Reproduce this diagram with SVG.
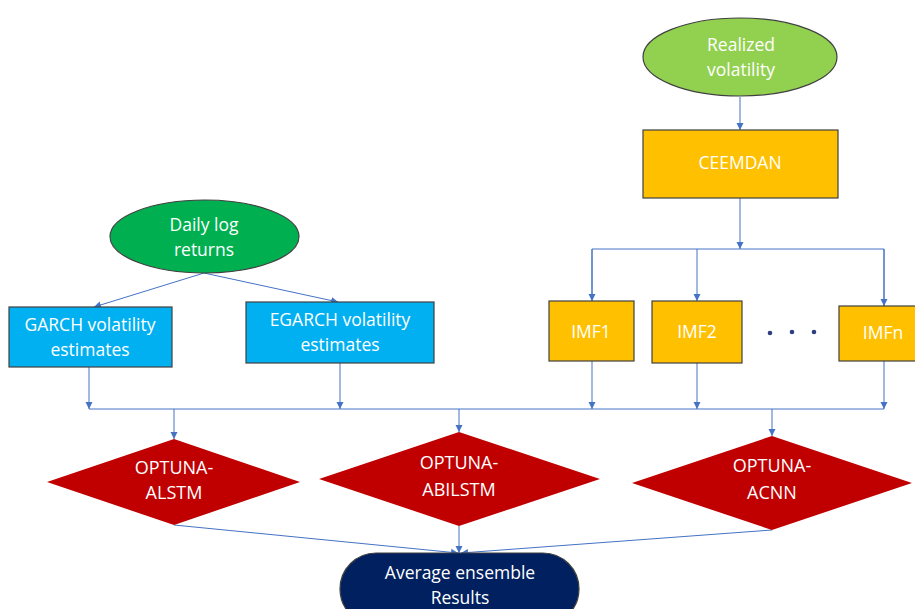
<svg xmlns="http://www.w3.org/2000/svg" width="915" height="609" viewBox="0 0 915 609">
<defs>
<marker id="ah" markerWidth="8" markerHeight="8" refX="7" refY="4" orient="auto" markerUnits="userSpaceOnUse">
<path d="M0,0.5 L7,4 L0,7.5 Z" fill="#4472C4"/>
</marker>
<style>
.c{stroke:#4472C4;stroke-width:1;fill:none}
.a{marker-end:url(#ah)}
.t{font-family:"Open Sans","Liberation Sans",sans-serif;font-size:17.5px;fill:#ffffff;text-anchor:middle}
.d{font-size:18px}
.o{stroke:#404040;stroke-width:1.2}
</style>
</defs>
<rect width="915" height="609" fill="#ffffff"/>
<g id="connectors">
<line class="c a" x1="740" y1="97" x2="740" y2="130"/>
<line class="c a" x1="740" y1="198" x2="740" y2="249"/>
<polyline class="c" points="592,300 592,249 884,249 884,306"/>
<line class="c a" x1="592" y1="249" x2="592" y2="301"/>
<line class="c a" x1="697" y1="249" x2="697" y2="301"/>
<line class="c a" x1="884" y1="249" x2="884" y2="306"/>
<line class="c a" x1="204" y1="273" x2="94" y2="307"/>
<line class="c a" x1="204" y1="273" x2="338" y2="302"/>
<line class="c" x1="89" y1="409" x2="884" y2="409"/>
<line class="c a" x1="89" y1="367" x2="89" y2="409"/>
<line class="c a" x1="340" y1="363" x2="340" y2="409"/>
<line class="c a" x1="592" y1="361" x2="592" y2="409"/>
<line class="c a" x1="697" y1="363" x2="697" y2="409"/>
<line class="c a" x1="884" y1="361" x2="884" y2="409"/>
<line class="c a" x1="174" y1="409" x2="174" y2="439"/>
<line class="c a" x1="459" y1="409" x2="459" y2="432"/>
<line class="c a" x1="772" y1="409" x2="772" y2="436"/>
<line class="c a" x1="174" y1="525" x2="458" y2="553"/>
<line class="c a" x1="459" y1="526" x2="459" y2="553"/>
<line class="c a" x1="772" y1="530" x2="461" y2="553"/>
</g>
<g id="realized">
<ellipse cx="740" cy="57" rx="97" ry="39" fill="#92D050" class="o"/>
<text class="t" x="741" y="51">Realized</text>
<text class="t" x="741" y="76">volatility</text>
</g>
<g id="ceemdan">
<rect x="643" y="130" width="195" height="68" fill="#FFC000" class="o"/>
<text class="t" x="740" y="169">CEEMDAN</text>
</g>
<g id="imf1">
<rect x="549" y="301" width="85" height="60" fill="#FFC000" class="o"/>
<text class="t" x="591" y="338">IMF1</text>
</g>
<g id="imf2">
<rect x="652" y="301" width="90" height="62" fill="#FFC000" class="o"/>
<text class="t" x="697" y="338">IMF2</text>
</g>
<g id="dots" fill="#2F3F7F">
<circle cx="770" cy="333" r="2.3"/>
<circle cx="792" cy="332" r="2.3"/>
<circle cx="814" cy="332" r="2.3"/>
</g>
<g id="imfn">
<rect x="839" y="306" width="82" height="55" fill="#FFC000" class="o"/>
<text class="t" x="883" y="339">IMFn</text>
</g>
<g id="daily">
<ellipse cx="204.5" cy="236.5" rx="94.5" ry="36.5" fill="#00B050" class="o"/>
<text class="t" x="204" y="231">Daily log</text>
<text class="t" x="204" y="256">returns</text>
</g>
<g id="garch">
<rect x="9" y="307" width="163" height="60" fill="#00B0F0" class="o"/>
<text class="t" x="90" y="331">GARCH volatility</text>
<text class="t" x="90" y="356">estimates</text>
</g>
<g id="egarch">
<rect x="246" y="302" width="188" height="61" fill="#00B0F0" class="o"/>
<text class="t" x="340" y="326">EGARCH volatility</text>
<text class="t" x="340" y="351">estimates</text>
</g>
<g id="alstm">
<polygon points="174,439 300,482 174,525 47,482" fill="#C00000"/>
<text class="t d" x="174" y="474">OPTUNA-</text>
<text class="t d" x="174" y="499">ALSTM</text>
</g>
<g id="abilstm">
<polygon points="459,432 600,479 459,526 319,479" fill="#C00000"/>
<text class="t d" x="459" y="469">OPTUNA-</text>
<text class="t d" x="459" y="496">ABILSTM</text>
</g>
<g id="acnn">
<polygon points="772,436 912,483 772,530 632,483" fill="#C00000"/>
<text class="t d" x="772" y="472">OPTUNA-</text>
<text class="t d" x="772" y="499">ACNN</text>
</g>
<g id="average">
<rect x="340" y="553" width="239" height="72" rx="36" ry="36" fill="#002060" class="o"/>
<text class="t" x="460" y="579">Average ensemble</text>
<text class="t" x="460" y="604">Results</text>
</g>
</svg>
